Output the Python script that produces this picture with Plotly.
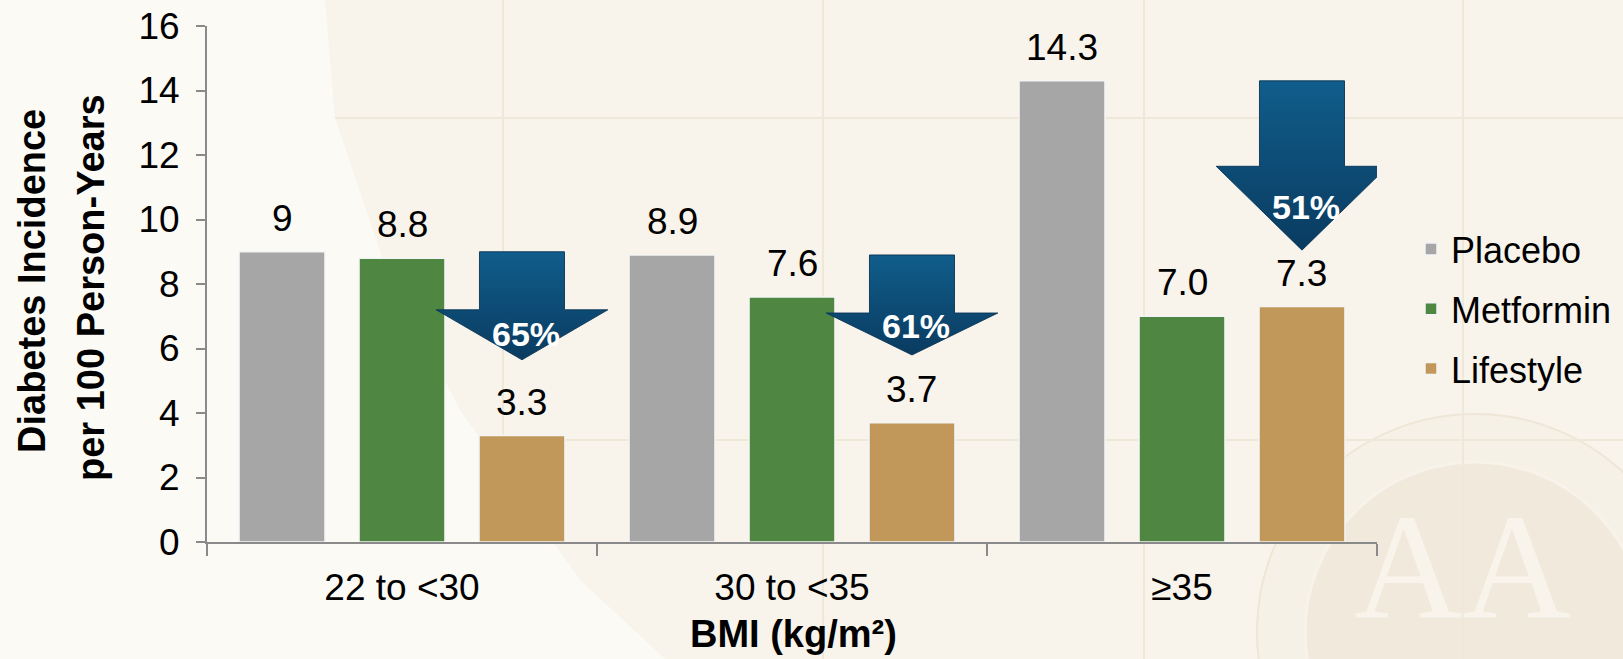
import plotly.graph_objects as go

# ---------------- data ----------------
categories = ["22 to <30", "30 to <35", "≥35"]
series_names = ["Placebo", "Metformin", "Lifestyle"]
placebo = [9.0, 8.9, 14.3]
metformin = [8.8, 7.6, 7.0]
lifestyle = [3.3, 3.7, 7.3]
placebo_labels = ["9", "8.9", "14.3"]
metformin_labels = ["8.8", "7.6", "7.0"]
lifestyle_labels = ["3.3", "3.7", "7.3"]
reduction_labels = ["65%", "61%", "51%"]
arrow_wing_y = [7.2, 7.1, 11.65]
arrow_tip_y = [5.65, 5.8, 9.05]
reduction_label_y = [6.45, 6.7, 10.4]
y_ticks = [0, 2, 4, 6, 8, 10, 12, 14, 16]

# ---------------- styles ----------------
colors = ["#A6A6A6", "#4F8642", "#C1985A"]
FONT = "Liberation Sans, Arial, sans-serif"
W, H = 1623, 659
ML, MR, MT, MB = 207, 246, 26, 117
BARGAP, BARGROUPGAP = 0.077, 0.284
slot = (1 - BARGAP) / 3
SHAFT_HALF, HEAD_HALF = 0.109, 0.22

PW = W - ML - MR
PH = H - MT - MB


def px(x):
    return (x - ML) / PW


def py(y):
    return (H - MB - y) / PH


fig = go.Figure()

values = [placebo, metformin, lifestyle]
labels = [placebo_labels, metformin_labels, lifestyle_labels]
for j, name in enumerate(series_names):
    fig.add_trace(go.Bar(
        x=categories, y=values[j], name=name, legendgroup=name,
        marker=dict(color=colors[j], line=dict(color="#F4F4F4", width=1.5)),
        hoverinfo="skip",
    ))

# arrows showing reduction (placebo -> lifestyle)
for i in range(len(categories)):
    c = i + slot
    top, wing, tip = placebo[i], arrow_wing_y[i], arrow_tip_y[i]
    xs = [c - SHAFT_HALF, c + SHAFT_HALF, c + SHAFT_HALF, c + HEAD_HALF, c,
          c - HEAD_HALF, c - SHAFT_HALF, c - SHAFT_HALF]
    ys = [top, top, wing, wing, tip, wing, wing, top]
    fig.add_trace(go.Scatter(
        x=xs, y=ys, xaxis="x2", yaxis="y", mode="lines", fill="toself",
        line=dict(color="rgba(10,52,85,0.9)", width=1),
        fillgradient=dict(type="vertical",
                          colorscale=[[0, "#0A3B60"], [1, "#105D8B"]]),
        showlegend=False, hoverinfo="skip",
    ))

annotations = []
# value labels
for j in range(3):
    for i in range(len(categories)):
        annotations.append(dict(
            xref="x2", yref="y", x=i + (j - 1) * slot, y=values[j][i],
            text=labels[j][i], showarrow=False, yanchor="bottom", yshift=11,
            font=dict(family=FONT, size=37, color="#000000"),
        ))
# reduction labels
for i in range(len(categories)):
    annotations.append(dict(
        xref="x2", yref="y", x=i + slot + 0.01, y=reduction_label_y[i],
        text="<b>%s</b>" % reduction_labels[i], showarrow=False,
        font=dict(family=FONT, size=34, color="#FFFFFF"),
    ))
# axis titles
annotations.append(dict(
    xref="paper", yref="paper", x=px(32), y=py(281), text="<b>Diabetes Incidence</b>",
    textangle=-90, showarrow=False, xanchor="center", yanchor="middle",
    font=dict(family=FONT, size=38, color="#000000")))
annotations.append(dict(
    xref="paper", yref="paper", x=px(91), y=py(288), text="<b>per 100 Person-Years</b>",
    textangle=-90, showarrow=False, xanchor="center", yanchor="middle",
    font=dict(family=FONT, size=38, color="#000000")))
annotations.append(dict(
    xref="paper", yref="paper", x=px(793), y=py(634), text="<b>BMI (kg/m²)</b>",
    showarrow=False, xanchor="center", yanchor="middle",
    font=dict(family=FONT, size=38, color="#000000")))
# watermark letters
annotations.append(dict(
    xref="paper", yref="paper", x=px(1462), y=py(566), text="AA",
    showarrow=False, xanchor="center", yanchor="middle",
    font=dict(family="Liberation Serif, serif", size=150, color="#F8F4EC")))

shapes = []
# seal watermark
shapes.append(dict(type="circle", xref="paper", yref="paper", layer="below",
                   x0=px(1475 - 218), x1=px(1475 + 218), y0=py(632 + 218), y1=py(632 - 218),
                   fillcolor="#F6F1E6", line=dict(color="#EEE6D6", width=2)))
shapes.append(dict(type="circle", xref="paper", yref="paper", layer="below",
                   x0=px(1475 - 170), x1=px(1475 + 170), y0=py(632 + 170), y1=py(632 - 170),
                   fillcolor="#F1EADC", line=dict(color="#F7F3EA", width=3)))
# background tile lines
for vx in [503, 823, 1144, 1463]:
    shapes.append(dict(type="line", xref="paper", yref="paper", layer="below",
                       x0=px(vx), x1=px(vx), y0=py(0), y1=py(H),
                       line=dict(color="#EFE8D9", width=2)))
for hy in [118, 440]:
    shapes.append(dict(type="line", xref="paper", yref="paper", layer="below",
                       x0=px(0), x1=px(W), y0=py(hy), y1=py(hy),
                       line=dict(color="#EFE8D9", width=2)))
# lighter swoosh on the left
pts = [(0, 0), (325, 0), (335, 118), (383, 260), (460, 410), (580, 580), (665, 659), (0, 659)]
path = "M " + " L ".join("%f,%f" % (px(a), py(b)) for a, b in pts) + " Z"
shapes.append(dict(type="path", xref="paper", yref="paper", layer="below", path=path,
                   fillcolor="#FBFAF5", line=dict(width=0)))

fig.update_layout(
    width=W, height=H,
    margin=dict(l=ML, r=MR, t=MT, b=MB, pad=0, autoexpand=False),
    paper_bgcolor="#F8F4EB",
    plot_bgcolor="rgba(0,0,0,0)",
    barmode="group", bargap=BARGAP, bargroupgap=BARGROUPGAP,
    font=dict(family=FONT, size=37, color="#000000"),
    showlegend=True,
    legend=dict(x=px(1411), y=py(219), xanchor="left", yanchor="top",
                bgcolor="rgba(0,0,0,0)", font=dict(family=FONT, size=36),
                tracegroupgap=10, traceorder="grouped"),
    xaxis=dict(type="category", categoryorder="array", categoryarray=categories,
               range=[-0.5, 2.5], tickson="boundaries", ticks="outside", ticklen=12,
               tickwidth=2, tickcolor="#8A8A8A", showline=True, linecolor="#8A8A8A",
               linewidth=2, showgrid=False, zeroline=False, ticklabelstandoff=12,
               tickfont=dict(family=FONT, size=37)),
    xaxis2=dict(overlaying="x", anchor="y", range=[-0.5, 2.5], visible=False),
    yaxis=dict(range=[0, 16], tickvals=y_ticks, ticks="outside", ticklen=9, tickwidth=2,
               tickcolor="#8A8A8A", showline=True, linecolor="#8A8A8A", linewidth=2,
               showgrid=False, zeroline=False, ticklabelstandoff=9,
               tickfont=dict(family=FONT, size=37)),
    annotations=annotations,
    shapes=shapes,
)

fig.write_html("out.html")
